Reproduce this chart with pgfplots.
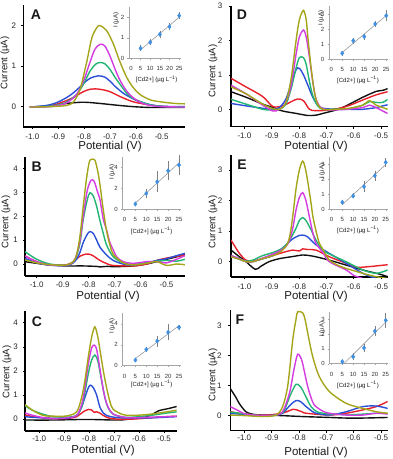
\documentclass[border=0pt]{standalone}
\usepackage{fontspec}
\setmainfont{Liberation Sans}
\usepackage{pgfplots}
\pgfplotsset{compat=1.18}
\definecolor{cBlk}{HTML}{111111}
\definecolor{cRed}{HTML}{E8202A}
\definecolor{cBlu}{HTML}{2B50D8}
\definecolor{cGrn}{HTML}{22B573}
\definecolor{cMag}{HTML}{D43BE0}
\definecolor{cOli}{HTML}{A5A51A}
\definecolor{cPt}{HTML}{3F8FE0}
\pgfplotsset{
 main/.style={scale only axis, anchor=north west,
  axis x line*=bottom, axis y line*=left,
  axis line style={black, line width=1.3pt},
  tick style={black, line width=0.6pt}, major tick length=2pt, tick align=outside,
  xtick={-1,-0.9,-0.8,-0.7,-0.6,-0.5},
  xticklabels={-1.0,-0.9,-0.8,-0.7,-0.6,-0.5},
  ticklabel style={font=\fontsize{8}{9}\selectfont, text=black!85, inner sep=1.5pt},
  /pgf/number format/assume math mode=true,
  yticklabel shift=3.5pt,
  ymin=-0.5, clip=true,
  every axis plot/.append style={line width=1.4pt, smooth}},
 inset/.style={scale only axis, anchor=south west,
  axis x line*=bottom, axis y line*=left,
  axis line style={gray!70, line width=0.5pt},
  tick style={gray!70, line width=0.4pt}, major tick length=1.5pt, tick align=outside,
  xmin=-1, xmax=26, ymin=0, xtick={0,5,10,15,20,25},
  ticklabel style={font=\fontsize{6}{6.5}\selectfont, text=black!80, inner sep=1pt},
  /pgf/number format/assume math mode=true,
  xticklabel shift=5.5pt, yticklabel shift=2pt, clip=false},
 fitl/.style={gray!80, line width=0.6pt},
 pts/.style={only marks, mark=diamond*, mark size=2.2pt, color=cPt,
  error bars/.cd, y dir=both, y explicit,
  error bar style={gray, line width=0.5pt},
  error mark options={gray, mark size=1.3pt, line width=0.5pt}},
}
\tikzset{lab/.style={inner sep=0pt, text=black!90}}
\newcommand{\plet}[1]{{\fontsize{14}{14}\bfseries #1}}
\newcommand{\ylab}{\fontsize{9.5}{10}\selectfont}
\newcommand{\xlab}{\fontsize{11.5}{12}\selectfont}
\newcommand{\ilab}{\fontsize{6}{6.5}\selectfont}
\begin{document}
\begin{tikzpicture}
\path[use as bounding box] (0pt,0pt) rectangle (392pt,-459pt);

%% ---------------- Panel A
\begin{axis}[main, at={(23.3pt,-5.4pt)}, width=161.7pt, height=121.5pt,
  xmin=-1.035, xmax=-0.41, ymax=2.5, ytick={0,1,2}, xticklabel shift=3pt]
\addplot[cBlk] coordinates {(-1.01,-0.01) (-0.932,0.02) (-0.867,0.08) (-0.803,0.11) (-0.74,0.08) (-0.68,0.04) (-0.61,0.0) (-0.545,-0.02) (-0.48,-0.02) (-0.41,-0.02)};
\addplot[cRed] coordinates {(-1.01,-0.01) (-0.932,0.02) (-0.88,0.12) (-0.841,0.23) (-0.803,0.37) (-0.777,0.43) (-0.758,0.44) (-0.73,0.42) (-0.70,0.37) (-0.661,0.25) (-0.61,0.12) (-0.545,0.04) (-0.48,0.0) (-0.41,-0.01)};
\addplot[cBlu] coordinates {(-1.01,-0.01) (-0.945,0.03) (-0.906,0.1) (-0.88,0.18) (-0.854,0.28) (-0.829,0.41) (-0.803,0.57) (-0.777,0.7) (-0.745,0.76) (-0.72,0.73) (-0.70,0.63) (-0.68,0.5) (-0.648,0.33) (-0.61,0.19) (-0.584,0.12) (-0.545,0.05) (-0.50,0.01) (-0.41,0.0)};
\addplot[cGrn] coordinates {(-1.01,-0.01) (-0.932,0.01) (-0.88,0.08) (-0.854,0.17) (-0.829,0.3) (-0.803,0.55) (-0.777,0.88) (-0.755,1.05) (-0.738,1.09) (-0.72,1.06) (-0.70,0.92) (-0.68,0.72) (-0.661,0.55) (-0.635,0.33) (-0.61,0.2) (-0.571,0.1) (-0.532,0.03) (-0.48,0.0) (-0.41,-0.01)};
\addplot[cMag] coordinates {(-1.01,-0.01) (-0.932,0.0) (-0.880,0.06) (-0.854,0.15) (-0.829,0.3) (-0.803,0.62) (-0.777,1.1) (-0.758,1.42) (-0.738,1.54) (-0.72,1.5) (-0.70,1.25) (-0.68,0.92) (-0.661,0.65) (-0.635,0.38) (-0.61,0.22) (-0.58,0.1) (-0.545,0.03) (-0.50,0.0) (-0.41,-0.01)};
\addplot[cOli] coordinates {(-1.01,-0.01) (-0.932,0.0) (-0.867,0.03) (-0.841,0.12) (-0.816,0.42) (-0.790,1.1) (-0.770,1.7) (-0.750,1.96) (-0.738,2.0) (-0.713,1.88) (-0.687,1.55) (-0.661,1.1) (-0.635,0.72) (-0.610,0.47) (-0.584,0.3) (-0.545,0.17) (-0.506,0.12) (-0.45,0.08) (-0.41,0.07)};
\end{axis}
\begin{axis}[inset, at={(129pt,-58.3pt)}, width=52.1pt, height=51.25pt, ymax=2.5, ytick={0,1,2}]
\addplot[fitl] coordinates {(5,0.42) (25,2.0)};
\addplot[pts] coordinates {(5,0.49) +- (0,0.08) (10,0.78) +- (0,0.08) (15,1.17) +- (0,0.1) (20,1.54) +- (0,0.1) (25,2.08) +- (0,0.1)};
\end{axis}
\node[lab] at (36pt,-15pt) {\plet{A}};
\node[lab, rotate=90] at (5pt,-63pt) {\ylab Current (µA)};
\node[lab] at (110pt,-147pt) {\xlab Potential (V)};
\node[lab, rotate=90] at (116pt,-20pt) {\ilab I (µA)};
\node[lab] at (156.7pt,-79.5pt) {\ilab [Cd2+] (µg L\textsuperscript{−1})};

%% ---------------- Panel B
\begin{axis}[main, at={(25pt,-156.75pt)}, width=160pt, height=119.2pt,
  xmin=-1.045, xmax=-0.429, ymax=4.5, ytick={0,1,2,3,4}, xticklabel shift=2.5pt]
\addplot[cBlk] coordinates {(-1.045,0.1) (-1.0,0.03) (-0.949,-0.04) (-0.885,-0.08) (-0.821,-0.08) (-0.769,-0.1) (-0.756,-0.12) (-0.731,-0.1) (-0.692,-0.11) (-0.628,-0.08) (-0.577,0.0) (-0.538,0.1) (-0.5,0.2) (-0.462,0.3) (-0.429,0.4)};
\addplot[cRed] coordinates {(-1.045,0.34) (-1.0,0.1) (-0.949,-0.04) (-0.885,-0.03) (-0.859,0.1) (-0.846,0.22) (-0.833,0.33) (-0.810,0.42) (-0.795,0.41) (-0.782,0.34) (-0.756,0.15) (-0.731,0.02) (-0.705,-0.06) (-0.628,-0.08) (-0.577,0.0) (-0.538,0.15) (-0.5,0.25) (-0.462,0.32) (-0.429,0.38)};
\addplot[cBlu] coordinates {(-1.045,0.24) (-1.0,0.05) (-0.949,-0.05) (-0.885,-0.06) (-0.859,0.05) (-0.846,0.2) (-0.833,0.5) (-0.821,0.9) (-0.805,1.25) (-0.795,1.36) (-0.782,1.28) (-0.769,1.0) (-0.756,0.7) (-0.731,0.38) (-0.705,0.15) (-0.667,0.0) (-0.628,-0.04) (-0.577,0.05) (-0.538,0.15) (-0.5,0.22) (-0.462,0.35) (-0.429,0.45)};
\addplot[cGrn] coordinates {(-1.045,0.52) (-1.0,0.2) (-0.949,0.0) (-0.885,-0.05) (-0.859,0.1) (-0.846,0.35) (-0.833,0.9) (-0.821,1.85) (-0.805,2.7) (-0.795,2.99) (-0.782,2.85) (-0.769,2.41) (-0.756,1.8) (-0.744,1.3) (-0.731,0.8) (-0.705,0.3) (-0.667,0.05) (-0.628,-0.02) (-0.577,0.05) (-0.538,0.12) (-0.5,0.15) (-0.462,0.12) (-0.429,0.2)};
\addplot[cMag] coordinates {(-1.045,0.34) (-1.0,0.1) (-0.949,-0.04) (-0.885,-0.05) (-0.859,0.1) (-0.846,0.4) (-0.833,1.0) (-0.821,1.99) (-0.805,3.1) (-0.790,3.52) (-0.778,3.45) (-0.765,3.0) (-0.756,2.69) (-0.744,1.9) (-0.731,1.43) (-0.718,0.9) (-0.705,0.59) (-0.692,0.3) (-0.667,0.1) (-0.628,0.03) (-0.577,0.1) (-0.538,0.1) (-0.5,0.05) (-0.462,0.2) (-0.429,0.35)};
\addplot[cOli] coordinates {(-1.045,0.17) (-1.0,0.05) (-0.949,-0.03) (-0.885,-0.04) (-0.859,0.1) (-0.846,0.4) (-0.833,1.2) (-0.821,2.4) (-0.808,3.6) (-0.797,4.3) (-0.788,4.39) (-0.776,4.36) (-0.765,3.9) (-0.756,3.3) (-0.744,2.3) (-0.731,1.4) (-0.718,0.8) (-0.705,0.4) (-0.667,0.05) (-0.628,-0.04) (-0.577,0.03) (-0.538,0.1) (-0.5,-0.06) (-0.462,0.0) (-0.429,-0.03)};
\end{axis}
\begin{axis}[inset, at={(122.3pt,-209pt)}, width=58.9pt, height=52pt, ymax=5, ytick={0,2,4}]
\addplot[fitl] coordinates {(5,0.57) (25,4.44)};
\addplot[pts] coordinates {(5,0.48) +- (0,0.1) (10,1.5) +- (0,0.3) (15,2.62) +- (0,0.9) (20,3.68) +- (0,0.8) (25,4.23) +- (0,0.85)};
\end{axis}
\node[lab] at (36.7pt,-166.7pt) {\plet{B}};
\node[lab, rotate=90] at (6pt,-222pt) {\ylab Current (µA)};
\node[lab] at (108pt,-296.5pt) {\xlab Potential (V)};
\node[lab, rotate=90] at (112pt,-172pt) {\ilab I (µA)};
\node[lab] at (151.7pt,-230.7pt) {\ilab [Cd2+] (µg L\textsuperscript{−1})};

%% ---------------- Panel C
\begin{axis}[main, at={(25pt,-310.7pt)}, width=151.7pt, height=120.4pt,
  xmin=-1.057, xmax=-0.449, ymax=4.5, ytick={0,1,2,3,4}, xticklabel shift=1pt]
\addplot[cBlk] coordinates {(-1.057,-0.04) (-0.944,-0.04) (-0.850,-0.02) (-0.777,-0.02) (-0.703,-0.04) (-0.663,-0.03) (-0.6,0.05) (-0.556,0.15) (-0.52,0.35) (-0.489,0.42) (-0.449,0.52)};
\addplot[cRed] coordinates {(-1.057,0.17) (-1.024,0.1) (-0.984,0.05) (-0.944,0.02) (-0.890,0.02) (-0.850,0.1) (-0.824,0.3) (-0.803,0.4) (-0.790,0.38) (-0.780,0.28) (-0.770,0.3) (-0.757,0.25) (-0.743,0.15) (-0.723,0.05) (-0.690,0.0) (-0.623,0.0) (-0.556,0.05) (-0.489,0.1) (-0.449,0.12)};
\addplot[cBlu] coordinates {(-1.057,0.1) (-1.024,0.07) (-0.984,0.05) (-0.944,0.03) (-0.890,0.03) (-0.850,0.15) (-0.830,0.5) (-0.817,0.9) (-0.803,1.3) (-0.795,1.41) (-0.783,1.3) (-0.770,1.0) (-0.757,0.5) (-0.743,0.25) (-0.730,0.15) (-0.703,0.08) (-0.663,0.05) (-0.556,0.05) (-0.489,0.08) (-0.449,0.1)};
\addplot[cGrn] coordinates {(-1.057,0.55) (-1.024,0.35) (-0.984,0.2) (-0.944,0.1) (-0.890,0.08) (-0.850,0.15) (-0.830,0.5) (-0.817,1.1) (-0.803,1.9) (-0.790,2.45) (-0.777,2.66) (-0.765,2.4) (-0.750,1.6) (-0.737,0.9) (-0.723,0.45) (-0.703,0.2) (-0.663,0.08) (-0.623,0.08) (-0.556,0.15) (-0.489,0.25) (-0.449,0.3)};
\addplot[cMag] coordinates {(-1.057,0.25) (-1.024,0.15) (-0.984,0.06) (-0.944,0.02) (-0.890,0.05) (-0.850,0.15) (-0.830,0.6) (-0.817,1.3) (-0.803,2.3) (-0.790,2.95) (-0.780,3.07) (-0.770,2.9) (-0.757,2.1) (-0.743,1.2) (-0.730,0.65) (-0.716,0.35) (-0.703,0.2) (-0.663,0.08) (-0.623,0.05) (-0.556,0.08) (-0.489,0.1) (-0.449,0.12)};
\addplot[cOli] coordinates {(-1.057,0.6) (-1.024,0.35) (-0.984,0.15) (-0.944,0.12) (-0.890,0.13) (-0.850,0.3) (-0.830,0.9) (-0.817,1.6) (-0.803,2.6) (-0.790,3.4) (-0.777,3.83) (-0.765,3.4) (-0.757,2.9) (-0.743,2.0) (-0.730,1.3) (-0.716,0.7) (-0.703,0.4) (-0.663,0.18) (-0.623,0.15) (-0.556,0.2) (-0.489,0.3) (-0.449,0.37)};
\end{axis}
\begin{axis}[inset, at={(122.3pt,-365.7pt)}, width=58.9pt, height=52.5pt, ymax=5, ytick={0,2,4}]
\addplot[fitl] coordinates {(5,0.68) (25,3.82)};
\addplot[pts] coordinates {(5,0.54) +- (0,0.08) (10,1.55) +- (0,0.1) (15,2.35) +- (0,0.4) (20,3.18) +- (0,0.65) (25,3.65) +- (0,0.12)};
\end{axis}
\node[lab] at (37pt,-322pt) {\plet{C}};
\node[lab, rotate=90] at (7pt,-372pt) {\ylab Current (µA)};
\node[lab] at (103pt,-450.5pt) {\xlab Potential (V)};
\node[lab, rotate=90] at (112pt,-326pt) {\ilab I (µA)};
\node[lab] at (151.7pt,-384pt) {\ilab [Cd2+] (µg L\textsuperscript{−1})};

%% ---------------- Panel D
\begin{axis}[main, at={(231pt,-6pt)}, width=156.7pt, height=120.5pt,
  xmin=-1.049, xmax=-0.476, ymax=3, ytick={0,1,2,3}, xticklabel shift=3pt, yticklabel shift=5pt]
\addplot[cBlk] coordinates {(-1.049,0.51) (-0.994,0.35) (-0.933,0.15) (-0.896,0.05) (-0.860,-0.05) (-0.811,-0.12) (-0.768,-0.18) (-0.738,-0.17) (-0.713,-0.12) (-0.665,-0.02) (-0.628,0.1) (-0.567,0.35) (-0.518,0.52) (-0.494,0.55) (-0.476,0.6)};
\addplot[cRed] coordinates {(-1.049,0.9) (-0.994,0.65) (-0.933,0.37) (-0.896,0.08) (-0.860,0.1) (-0.829,0.22) (-0.805,0.3) (-0.784,0.25) (-0.762,0.0) (-0.738,-0.04) (-0.689,-0.02) (-0.628,0.08) (-0.567,0.27) (-0.518,0.42) (-0.476,0.51)};
\addplot[cBlu] coordinates {(-1.049,0.17) (-0.994,0.1) (-0.933,0.03) (-0.896,0.0) (-0.872,0.05) (-0.848,0.3) (-0.829,0.75) (-0.811,1.15) (-0.799,1.19) (-0.784,1.0) (-0.768,0.7) (-0.750,0.35) (-0.732,0.12) (-0.713,0.03) (-0.665,0.0) (-0.616,0.0) (-0.567,0.0) (-0.518,0.05) (-0.494,0.1) (-0.476,0.13)};
\addplot[cGrn] coordinates {(-1.049,0.29) (-0.994,0.15) (-0.933,0.0) (-0.896,-0.02) (-0.872,0.0) (-0.848,0.15) (-0.829,0.6) (-0.811,1.2) (-0.799,1.5) (-0.784,1.5) (-0.774,1.3) (-0.762,0.8) (-0.750,0.4) (-0.732,0.1) (-0.713,0.0) (-0.665,0.0) (-0.616,0.02) (-0.567,0.12) (-0.543,0.22) (-0.518,0.2) (-0.494,0.2) (-0.476,0.29)};
\addplot[cMag] coordinates {(-1.049,0.7) (-0.994,0.45) (-0.933,0.12) (-0.896,-0.05) (-0.872,0.0) (-0.848,0.2) (-0.829,0.7) (-0.811,1.6) (-0.799,2.1) (-0.784,2.3) (-0.774,2.1) (-0.762,1.5) (-0.750,0.8) (-0.738,0.3) (-0.720,0.05) (-0.689,-0.02) (-0.628,0.0) (-0.567,0.05) (-0.543,0.12) (-0.518,0.05) (-0.494,-0.05) (-0.476,-0.12)};
\addplot[cOli] coordinates {(-1.049,0.65) (-0.994,0.45) (-0.933,0.15) (-0.896,0.02) (-0.872,0.0) (-0.848,0.2) (-0.829,0.9) (-0.811,2.0) (-0.799,2.6) (-0.784,2.87) (-0.774,2.6) (-0.768,2.1) (-0.756,1.2) (-0.744,0.5) (-0.732,0.15) (-0.713,0.0) (-0.665,0.0) (-0.616,0.03) (-0.567,0.12) (-0.543,0.25) (-0.518,0.12) (-0.494,0.05) (-0.476,0.0)};
\end{axis}
\begin{axis}[inset, at={(329pt,-59.3pt)}, width=59.4pt, height=52.9pt, ymax=3.5, ytick={0,1,2,3}]
\addplot[fitl] coordinates {(5,0.45) (25,2.89)};
\addplot[pts] coordinates {(5,0.4) +- (0,0.08) (10,1.23) +- (0,0.12) (15,1.5) +- (0,0.12) (20,2.34) +- (0,0.1) (25,2.89) +- (0,0.3)};
\end{axis}
\node[lab] at (242pt,-15pt) {\plet{D}};
\node[lab, rotate=90] at (213pt,-71pt) {\ylab Current (µA)};
\node[lab] at (316pt,-147pt) {\xlab Potential (V)};
\node[lab, rotate=90] at (321pt,-18pt) {\ilab I (µA)};
\node[lab] at (358pt,-80pt) {\ilab [Cd2+] (µg L\textsuperscript{−1})};

%% ---------------- Panel E
\begin{axis}[main, at={(231pt,-154.7pt)}, width=156.7pt, height=122.3pt,
  xmin=-1.049, xmax=-0.476, ymax=3.5, ytick={0,1,2,3}, xticklabel shift=3pt, yticklabel shift=5pt]
\addplot[cBlk] coordinates {(-1.049,0.38) (-1.018,0.16) (-0.994,0.0) (-0.96,-0.25) (-0.94,-0.15) (-0.910,0.0) (-0.872,0.1) (-0.823,0.17) (-0.787,0.22) (-0.762,0.2) (-0.738,0.16) (-0.689,0.05) (-0.628,-0.11) (-0.567,-0.27) (-0.50,-0.42) (-0.476,-0.49)};
\addplot[cRed] coordinates {(-1.049,0.71) (-1.018,0.27) (-0.994,0.05) (-0.970,0.02) (-0.933,0.1) (-0.896,0.2) (-0.860,0.3) (-0.823,0.38) (-0.799,0.35) (-0.787,0.42) (-0.770,0.4) (-0.738,0.38) (-0.689,0.16) (-0.628,-0.05) (-0.591,-0.18) (-0.543,-0.16) (-0.50,-0.12) (-0.476,-0.1)};
\addplot[cBlu] coordinates {(-1.049,0.18) (-1.018,0.08) (-0.994,0.0) (-0.970,0.0) (-0.933,0.1) (-0.896,0.2) (-0.872,0.35) (-0.848,0.55) (-0.823,0.75) (-0.799,0.86) (-0.787,0.87) (-0.77,0.82) (-0.738,0.55) (-0.713,0.4) (-0.689,0.27) (-0.628,-0.05) (-0.567,-0.38) (-0.518,-0.55)};
\addplot[cGrn] coordinates {(-1.049,0.2) (-1.018,0.1) (-0.994,0.02) (-0.970,0.05) (-0.933,0.2) (-0.896,0.3) (-0.860,0.45) (-0.835,0.7) (-0.811,1.1) (-0.799,1.35) (-0.787,1.44) (-0.775,1.35) (-0.756,1.04) (-0.738,0.7) (-0.713,0.38) (-0.689,0.25) (-0.628,0.0) (-0.567,-0.27) (-0.518,-0.38) (-0.476,-0.27)};
\addplot[cMag] coordinates {(-1.049,0.2) (-1.018,0.1) (-0.994,0.0) (-0.970,0.0) (-0.933,0.12) (-0.896,0.25) (-0.872,0.35) (-0.848,0.5) (-0.835,0.7) (-0.823,1.1) (-0.811,1.7) (-0.799,2.1) (-0.787,2.26) (-0.775,2.0) (-0.762,1.45) (-0.750,0.95) (-0.738,0.6) (-0.713,0.3) (-0.689,0.0) (-0.628,-0.27) (-0.60,-0.45) (-0.567,-0.55)};
\addplot[cOli] coordinates {(-1.049,0.16) (-1.018,0.08) (-0.994,0.0) (-0.970,0.0) (-0.933,0.1) (-0.896,0.2) (-0.872,0.3) (-0.848,0.5) (-0.835,0.8) (-0.823,1.5) (-0.811,2.4) (-0.799,3.0) (-0.787,3.29) (-0.777,3.05) (-0.768,2.6) (-0.756,1.9) (-0.750,1.5) (-0.738,1.0) (-0.726,0.6) (-0.713,0.4) (-0.689,0.05) (-0.65,-0.15) (-0.628,-0.22) (-0.567,-0.38) (-0.518,-0.49) (-0.476,-0.55)};
\end{axis}
\begin{axis}[inset, at={(329.3pt,-209.3pt)}, width=58.6pt, height=52.5pt, ymax=3.5, ytick={0,1,2,3}]
\addplot[fitl] coordinates {(5,0.31) (25,2.98)};
\addplot[pts] coordinates {(5,0.47) +- (0,0.08) (10,0.89) +- (0,0.08) (15,1.51) +- (0,0.3) (20,2.24) +- (0,0.25) (25,3.13) +- (0,0.2)};
\end{axis}
\node[lab] at (242pt,-165pt) {\plet{E}};
\node[lab, rotate=90] at (213pt,-222pt) {\ylab Current (µA)};
\node[lab] at (316pt,-297pt) {\xlab Potential (V)};
\node[lab, rotate=90] at (322pt,-171pt) {\ilab I (µA)};
\node[lab] at (358pt,-230pt) {\ilab [Cd2+] (µg L\textsuperscript{−1})};

%% ---------------- Panel F
\begin{axis}[main, at={(230.3pt,-310.3pt)}, width=157.4pt, height=120.4pt,
  xmin=-1.051, xmax=-0.476, ymax=3.5, ytick={0,1,2,3}, xticklabel shift=1pt, yticklabel shift=5pt]
\addplot[cBlk] coordinates {(-1.051,0.9) (-1.030,0.6) (-1.018,0.4) (-0.994,0.13) (-0.970,0.05) (-0.933,0.02) (-0.860,0.0) (-0.787,-0.03) (-0.689,-0.06) (-0.628,-0.08) (-0.567,-0.08) (-0.476,-0.06)};
\addplot[cRed] coordinates {(-1.051,0.13) (-0.994,0.05) (-0.933,0.02) (-0.884,0.05) (-0.848,0.12) (-0.823,0.21) (-0.811,0.2) (-0.787,0.12) (-0.774,0.08) (-0.689,0.02) (-0.628,0.08) (-0.567,0.19) (-0.518,0.3) (-0.476,0.47)};
\addplot[cBlu] coordinates {(-1.051,0.08) (-0.994,0.03) (-0.933,0.0) (-0.884,0.02) (-0.860,0.08) (-0.848,0.19) (-0.829,0.38) (-0.811,0.5) (-0.795,0.47) (-0.774,0.3) (-0.750,0.13) (-0.738,0.08) (-0.689,0.02) (-0.628,0.13) (-0.567,0.3) (-0.518,0.32) (-0.476,0.24)};
\addplot[cGrn] coordinates {(-1.051,0.12) (-0.994,0.05) (-0.933,0.0) (-0.884,0.02) (-0.860,0.1) (-0.848,0.3) (-0.829,0.74) (-0.811,1.04) (-0.799,1.0) (-0.787,0.85) (-0.768,0.5) (-0.756,0.3) (-0.738,0.15) (-0.713,0.08) (-0.628,0.03) (-0.567,0.05) (-0.518,0.08) (-0.476,0.08)};
\addplot[cMag] coordinates {(-1.051,0.3) (-1.018,0.15) (-0.994,0.05) (-0.933,0.0) (-0.884,0.02) (-0.860,0.13) (-0.835,0.74) (-0.817,1.6) (-0.805,2.04) (-0.795,1.95) (-0.787,1.74) (-0.768,0.96) (-0.750,0.45) (-0.738,0.3) (-0.713,0.15) (-0.689,0.08) (-0.628,0.02) (-0.567,0.02) (-0.518,0.08) (-0.476,0.05)};
\addplot[cOli] coordinates {(-1.051,0.02) (-0.994,0.0) (-0.933,-0.03) (-0.884,0.02) (-0.860,0.3) (-0.841,1.0) (-0.823,2.51) (-0.811,3.2) (-0.805,3.45) (-0.787,3.42) (-0.778,3.2) (-0.768,2.74) (-0.750,1.96) (-0.726,1.3) (-0.689,0.8) (-0.628,0.41) (-0.567,0.24) (-0.518,0.13) (-0.476,0.08)};
\end{axis}
\begin{axis}[inset, at={(329.3pt,-363.7pt)}, width=58.6pt, height=51.8pt, ymax=3.5, ytick={0,1,2,3}]
\addplot[fitl] coordinates {(5.7,0) (25,2.82)};
\addplot[pts] coordinates {(5,0.14) +- (0,0.05) (10,0.47) +- (0,0.15) (15,1.07) +- (0,0.2) (20,2.2) +- (0,0.25) (25,2.93) +- (0,0.4)};
\end{axis}
\node[lab] at (240pt,-320pt) {\plet{F}};
\node[lab, rotate=90] at (213pt,-375pt) {\ylab Current (µA)};
\node[lab] at (316pt,-453pt) {\xlab Potential (V)};
\node[lab, rotate=90] at (322pt,-329pt) {\ilab I (µA)};
\node[lab] at (358pt,-385pt) {\ilab [Cd2+] (µg L\textsuperscript{−1})};
\end{tikzpicture}
\end{document}
